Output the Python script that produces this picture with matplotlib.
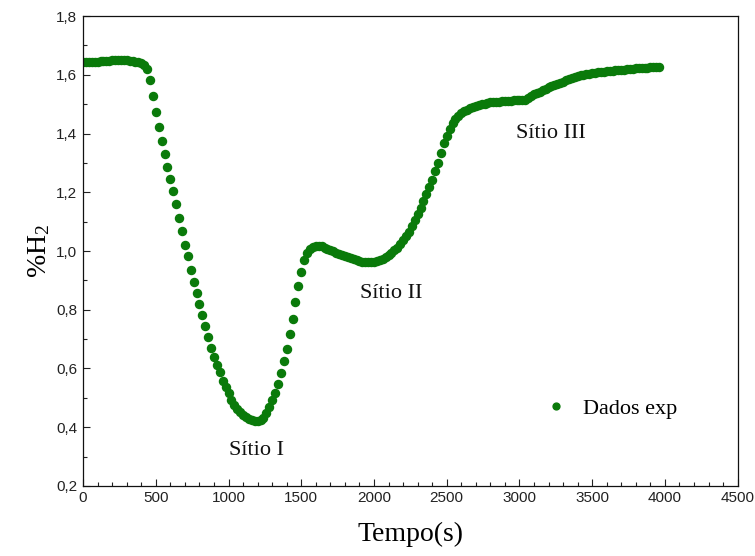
"""
Curva de consumo de H2 (TPR) - dados experimentais
"""

import matplotlib
matplotlib.use("Agg")
import matplotlib.pyplot as plt
from matplotlib.ticker import MultipleLocator, FuncFormatter

# tempo (s), uma leitura a cada 20 s
tempo = list(range(0, 3980, 20))

# %H2 medido
h2 = [
    1.645, 1.645, 1.645, 1.645, 1.645, 1.645, 1.646, 1.646, 1.647, 1.648,
    1.649, 1.650, 1.651, 1.652, 1.652, 1.650, 1.648, 1.647, 1.645, 1.643,
    1.640, 1.634, 1.620, 1.582, 1.529, 1.472, 1.421, 1.375, 1.330, 1.287,
    1.245, 1.203, 1.160, 1.112, 1.068, 1.022, 0.983, 0.936, 0.893, 0.857,
    0.820, 0.782, 0.744, 0.707, 0.671, 0.640, 0.613, 0.587, 0.558, 0.536,
    0.515, 0.494, 0.477, 0.463, 0.451, 0.442, 0.434, 0.428, 0.423, 0.420,
    0.421, 0.425, 0.433, 0.447, 0.468, 0.493, 0.518, 0.547, 0.584, 0.626,
    0.668, 0.716, 0.769, 0.825, 0.881, 0.928, 0.968, 0.995, 1.008, 1.014,
    1.017, 1.018, 1.016, 1.012, 1.007, 1.003, 0.999, 0.995, 0.991, 0.987,
    0.983, 0.979, 0.975, 0.972, 0.969, 0.966, 0.964, 0.963, 0.962, 0.962,
    0.963, 0.966, 0.969, 0.973, 0.978, 0.985, 0.993, 1.002, 1.012, 1.024,
    1.037, 1.050, 1.066, 1.084, 1.104, 1.125, 1.148, 1.171, 1.194, 1.217,
    1.243, 1.272, 1.301, 1.335, 1.368, 1.393, 1.416, 1.436, 1.450, 1.461,
    1.469, 1.476, 1.482, 1.487, 1.491, 1.495, 1.498, 1.500, 1.502, 1.504,
    1.506, 1.507, 1.508, 1.509, 1.510, 1.511, 1.512, 1.512, 1.513, 1.513,
    1.514, 1.515, 1.516, 1.520, 1.527, 1.534, 1.539, 1.543, 1.548, 1.553,
    1.557, 1.561, 1.565, 1.569, 1.573, 1.577, 1.581, 1.585, 1.589, 1.592,
    1.595, 1.598, 1.600, 1.602, 1.604, 1.606, 1.607, 1.609, 1.610, 1.611,
    1.612, 1.613, 1.614, 1.615, 1.616, 1.617, 1.618, 1.619, 1.620, 1.621,
    1.622, 1.622, 1.623, 1.624, 1.625, 1.626, 1.626, 1.627, 1.628,
]

# rotulos dos picos: (texto, tempo, %H2)
sitios = ["Sítio I", "Sítio II", "Sítio III"]
sitios_t = [1190, 2115, 3215]
sitios_y = [0.322, 0.857, 1.40]

verde = "#0a7a0a"
serif = "Liberation Serif"
fonte_ticks = ["Liberation Sans Narrow", "Liberation Sans"]

plt.rcParams["mathtext.fontset"] = "custom"
plt.rcParams["mathtext.rm"] = serif
plt.rcParams["mathtext.it"] = serif

fig = plt.figure(figsize=(7.55, 5.56), dpi=100)
ax = fig.add_axes([0.110, 0.126, 0.867, 0.845])

ax.plot(tempo, h2, linestyle="none", marker="o", markersize=5.8,
        color=verde, label="Dados exp")

for txt, t, y in zip(sitios, sitios_t, sitios_y):
    ax.text(t, y, txt, fontsize=16, family=serif, color="#111111",
            ha="center", va="center")

ax.set_xlim(0, 4500)
ax.set_ylim(0.2, 1.8)
ax.xaxis.set_major_locator(MultipleLocator(500))
ax.xaxis.set_minor_locator(MultipleLocator(100))
ax.yaxis.set_major_locator(MultipleLocator(0.2))
ax.yaxis.set_minor_locator(MultipleLocator(0.1))
ax.yaxis.set_major_formatter(FuncFormatter(lambda v, p: f"{v:.1f}".replace(".", ",")))

ax.tick_params(which="both", direction="in", top=False, right=False,
               labelsize=11, colors="#222222", pad=4)
ax.tick_params(which="major", length=5, width=0.8)
ax.tick_params(which="minor", length=3, width=0.8)
for lbl in ax.get_xticklabels() + ax.get_yticklabels():
    lbl.set_family(fonte_ticks)

for s in ax.spines.values():
    s.set_linewidth(0.9)
    s.set_color("#111111")

ax.set_xlabel("Tempo(s)", fontsize=20, family=serif, labelpad=12)
ax.set_ylabel(r"%H$_{2}$", fontsize=20, family=serif, labelpad=3)

ax.legend(loc="center left", bbox_to_anchor=(0.672, 0.164), frameon=False,
          handlelength=1.2, handletextpad=0.6, markerscale=0.85,
          prop={"family": serif, "size": 16})

fig.savefig("out.png", dpi=100)
